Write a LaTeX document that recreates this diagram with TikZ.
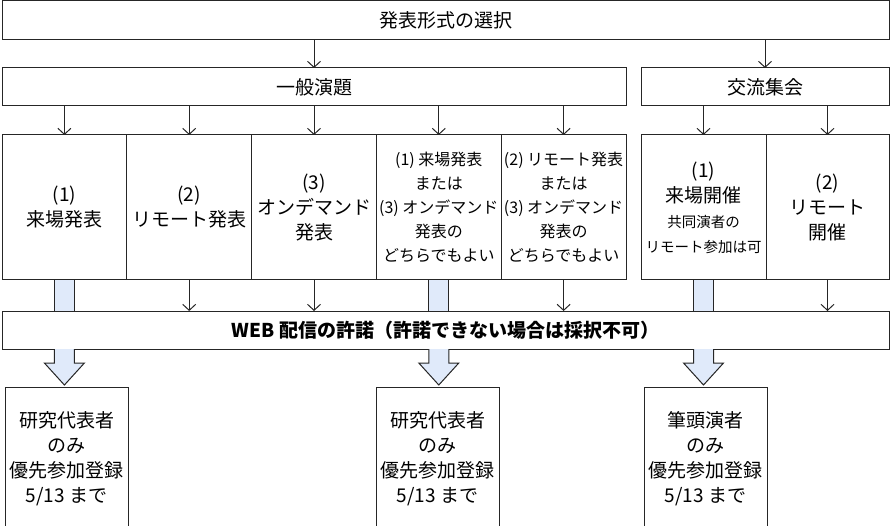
\documentclass[tikz,border=0pt]{standalone}
\usepackage{fontspec}
\setmainfont{Noto Sans CJK JP}
\usetikzlibrary{positioning}
\usetikzlibrary{arrows.meta}
\definecolor{shaftblue}{RGB}{224,234,250}
\newcommand{\note}[1]{{\fontsize{14.5}{25}\selectfont #1}}
\tikzset{x=1pt, y=-1pt, % one unit = one pixel of the page, y going down
box/.style={ % Sets the properties for every box
draw=black!85,
line width=1pt,
rectangle,
inner sep=0pt,
outer sep=0pt, % so that boxes placed side by side share one border
align=center,
font=\fontsize{19}{25}\selectfont},
cell/.style={box, % The boxes of the third row
minimum width=124.8, minimum height=145},
small/.style={font=\fontsize{16}{24}\selectfont},
lowbox/.style={box, minimum width=123, minimum height=143},
arr/.style={ % thin arrows with open heads
draw=black!85,
line width=1pt,
-{Straight Barb[length=6pt,width=13pt]}},
blockarrow/.style={ % light blue block arrows
draw=black!85,
line width=1pt,
fill=shaftblue,
line join=miter}}

\begin{document}
\begin{tikzpicture}
					\useasboundingbox (0,0) rectangle (893,526);

					\node[box, minimum width=887, minimum height=39, anchor=north west] (top) at (2,1) {発表形式の選択};

					\node[box, minimum width=624, minimum height=38, anchor=north west] (gen) at (2,68) {一般演題};
					\node[box, minimum width=248, minimum height=38, anchor=north west] (kou) at (641,68) {交流集会};

					\node[cell, anchor=north west] (a) at (2,135) {(1)\\来場発表};
					\node[cell, right=0pt of a] (b) {(2)\\リモート発表};
					\node[cell, right=0pt of b] (c) {(3)\\オンデマンド\\発表};
					\node[cell, small, right=0pt of c] (d) {(1) 来場発表\\または\\(3) オンデマンド\\発表の\\どちらでもよい};
					\node[cell, small, right=0pt of d] (e) {(2) リモート発表\\または\\(3) オンデマンド\\発表の\\どちらでもよい};

					\node[cell, minimum width=125, anchor=north west] (f) at (641,135) {(1)\\来場開催\\\note{共同演者の}\\\note{リモート参加は可}};
					\node[cell, minimum width=123, right=0pt of f] (g) {(2)\\リモート\\開催};

					\node[box, minimum width=887, minimum height=38, anchor=north west, font=\fontsize{19}{25}\selectfont\bfseries] (web) at (2,311) {WEB 配信の許諾（許諾できない場合は採択不可）};

					\node[lowbox, anchor=north west] (p1) at (5,387) {研究代表者\\のみ\\優先参加登録\\5/13 まで};
					\node[lowbox, anchor=north west] (p2) at (376,387) {研究代表者\\のみ\\優先参加登録\\5/13 まで};
					\node[lowbox, anchor=north west] (p3) at (644,387) {筆頭演者\\のみ\\優先参加登録\\5/13 まで};

					\draw[arr] (top.south -| gen.north) -- (gen.north);
					\draw[arr] (top.south -| kou.north) -- (kou.north);

					\draw[arr] (gen.south -| a.north) -- (a.north);
					\draw[arr] (gen.south -| b.north) -- (b.north);
					\draw[arr] (gen.south -| c.north) -- (c.north);
					\draw[arr] (gen.south -| d.north) -- (d.north);
					\draw[arr] (gen.south -| e.north) -- (e.north);
					\draw[arr] (kou.south -| f.north) -- (f.north);
					\draw[arr] (kou.south -| g.north) -- (g.north);

					\draw[arr] (b.south) -- (web.north -| b.south);
					\draw[arr] (c.south) -- (web.north -| c.south);
					\draw[arr] (e.south) -- (web.north -| e.south);
					\draw[arr] (g.south) -- (web.north -| g.south);

					\foreach \n/\m in {a/p1, d/p2, f/p3} {
						\draw[blockarrow] (\n.south) ++(-10,0) rectangle ++(20,31);
						\draw[blockarrow] (web.south -| \n.south) ++(-10,0) -- ++(0,14) -- ++(-10,0) -- ++(20,22) -- ++(20,-22) -- ++(-10,0) -- ++(0,-14);
					}
				\end{tikzpicture}
\end{document}
